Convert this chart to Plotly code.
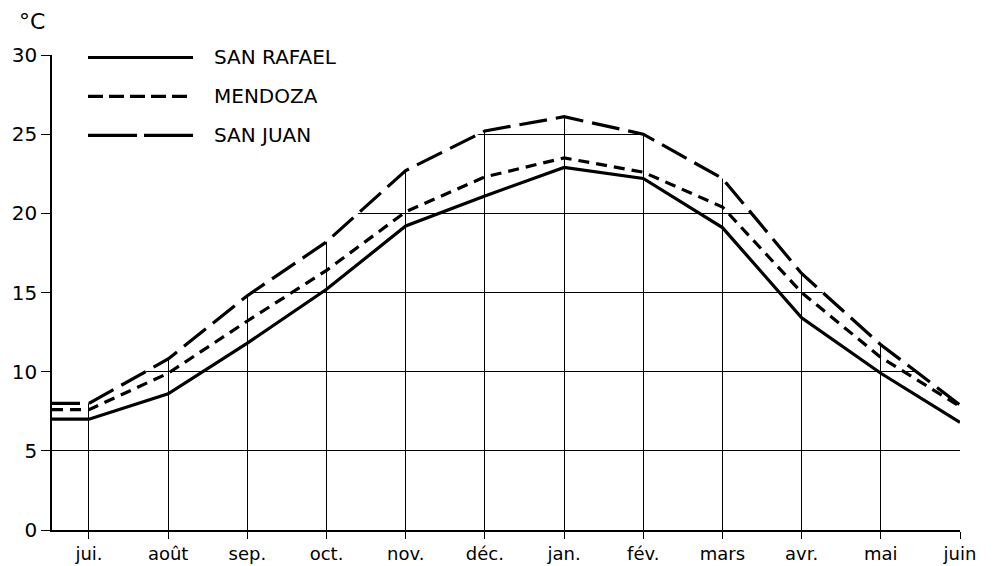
import plotly.graph_objects as go

months = ["jui.", "août", "sep.", "oct.", "nov.", "déc.", "jan.", "fév.", "mars", "avr.", "mai", "juin"]
san_rafael = [7.0, 8.6, 11.8, 15.2, 19.2, 21.1, 22.9, 22.2, 19.1, 13.4, 9.9, 6.8]
mendoza = [7.6, 9.9, 13.2, 16.4, 20.1, 22.3, 23.5, 22.6, 20.4, 15.0, 10.9, 7.8]
san_juan = [8.0, 10.8, 14.8, 18.2, 22.7, 25.2, 26.1, 25.0, 22.2, 16.2, 11.7, 7.9]
series_names = ["SAN RAFAEL", "MENDOZA", "SAN JUAN"]
y_ticks = [0, 5, 10, 15, 20, 25, 30]

FONT = "DejaVu Sans"
X0 = -0.467          # left end of the x axis (y axis position)
XMAX = len(months) - 1
YMAX = 30

idx = list(range(len(months)))
xs = [X0] + idx

fig = go.Figure()

# white mask above the highest curve hides the grid there
fig.add_trace(go.Scatter(
    x=xs + [XMAX, X0], y=[san_juan[0]] + san_juan + [YMAX, YMAX],
    fill="toself", fillcolor="white", mode="lines",
    line=dict(width=0, color="white"), hoverinfo="skip", showlegend=False))

styles = ["solid", "11px,7px", "28px,9px"]
for name, vals, dash in zip(series_names, [san_rafael, mendoza, san_juan], styles):
    fig.add_trace(go.Scatter(
        x=xs, y=[vals[0]] + vals, mode="lines", name=name,
        line=dict(color="black", width=3.2, dash=dash),
        showlegend=False))

# manual legend (long keys)
W, H = 908.0, 475.5
def px(x):
    return (x - 52) / W
def py(y):
    return (530 - y) / H

legend_rows = [57, 96, 135]
legend_dash = ["solid", "15px,6px", "49px,7px"]
for name, yrow, dash in zip(series_names, legend_rows, legend_dash):
    fig.add_shape(type="line", xref="paper", yref="paper",
                  x0=px(88), x1=px(193), y0=py(yrow), y1=py(yrow),
                  line=dict(color="black", width=3.2, dash=dash))
    fig.add_annotation(xref="paper", yref="paper", x=px(212), y=py(yrow),
                       text=name, showarrow=False, xanchor="left", yanchor="middle",
                       font=dict(family=FONT, size=20, color="black"))

fig.add_annotation(xref="paper", yref="paper", x=px(17), y=py(21),
                   text="°C", showarrow=False, xanchor="left", yanchor="middle",
                   font=dict(family=FONT, size=22, color="black"))

fig.update_layout(
    width=994, height=566,
    margin=dict(l=52, r=34, t=54.5, b=36, autoexpand=False),
    paper_bgcolor="white", plot_bgcolor="white",
    showlegend=False,
    font=dict(family=FONT, color="black"),
)
fig.update_xaxes(
    range=[X0, XMAX], tickmode="array", tickvals=idx, ticktext=months,
    showline=True, linecolor="black", linewidth=1.5, automargin=False,
    ticks="outside", ticklen=7, tickcolor="black", tickwidth=1.2,
    showgrid=True, gridcolor="black", gridwidth=1.2,
    zeroline=False, tickfont=dict(size=18, family=FONT, color="black"),
)
fig.update_yaxes(
    range=[0, YMAX], tickmode="array", tickvals=y_ticks,
    showline=True, linecolor="black", linewidth=1.5, automargin=False,
    ticks="outside", ticklen=9, tickcolor="black", tickwidth=1.2,
    showgrid=True, gridcolor="black", gridwidth=1.2,
    zeroline=False, tickfont=dict(size=20, family=FONT, color="black"),
)

fig.write_html("out.html", config={"displayModeBar": False},
               post_script="document.body.style.margin='0px';")
